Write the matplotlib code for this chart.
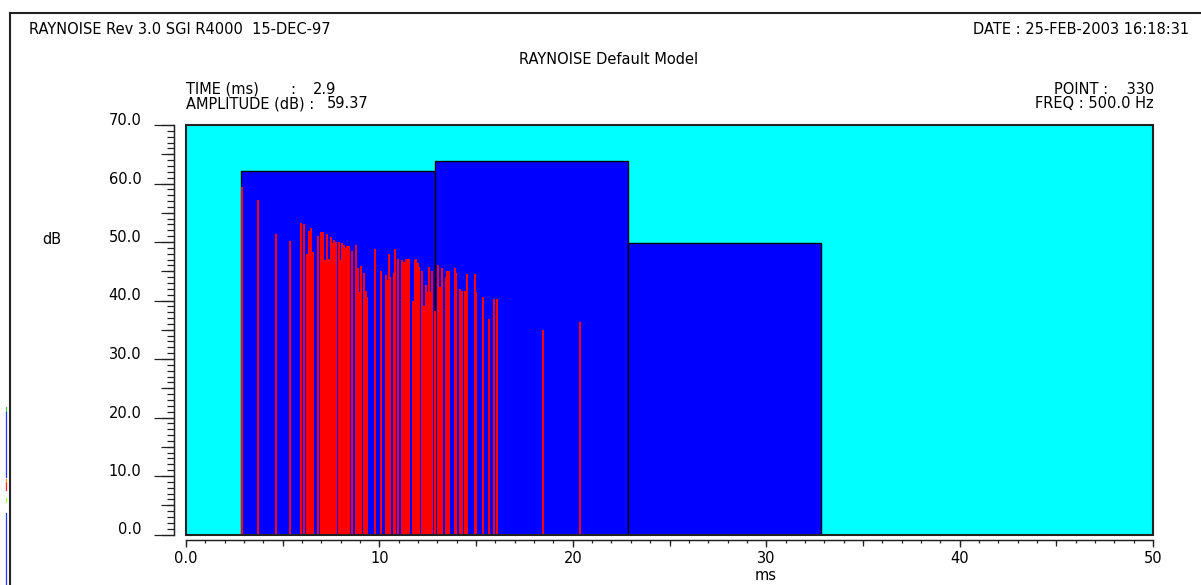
import matplotlib
matplotlib.use('Agg')
import matplotlib.pyplot as plt
from matplotlib.patches import Rectangle
from matplotlib.lines import Line2D
from matplotlib.ticker import MultipleLocator

plt.rcParams['font.family'] = ['DejaVu Sans']

# ---------------- data ----------------
band_start = [2.85, 12.85, 22.85]
band_width = [10.0, 10.0, 10.0]
band_level = [62.2, 63.9, 49.9]

echo_time = [2.9, 3.72, 4.65, 5.38, 5.95, 6.12, 6.26, 6.36, 6.46, 6.57,
             6.81, 6.96, 7.08, 7.19, 7.29, 7.39, 7.48, 7.55, 7.65, 7.76,
             7.90, 7.95, 8.07, 8.15, 8.24, 8.34, 8.44, 8.57, 8.79, 8.88,
             9.00, 9.05, 9.20, 9.29, 9.36, 9.76, 10.07, 10.33, 10.39, 10.48,
             10.55, 10.75, 10.79, 10.95, 11.17, 11.26, 11.36, 11.44, 11.53, 11.74,
             11.84, 11.89, 11.98, 12.05, 12.20, 12.29, 12.39, 12.48, 12.55, 12.63,
             12.72, 12.87, 13.03, 13.13, 13.25, 13.43, 13.51, 13.60, 13.89, 13.96,
             14.15, 14.29, 14.44, 14.54, 14.94, 15.01, 15.34, 15.67, 15.91, 16.07,
             18.44, 20.37]
echo_level = [59.37, 57.2, 51.4, 50.1, 53.2, 53.0, 47.9, 51.9, 52.4, 48.3,
              51.1, 51.7, 51.7, 46.9, 51.4, 47.1, 50.9, 49.8, 50.3, 50.0,
              50.0, 46.9, 49.8, 49.5, 49.0, 49.3, 49.3, 48.4, 49.5, 45.6,
              41.4, 45.9, 44.7, 41.6, 40.6, 48.8, 45.0, 44.3, 43.5, 47.9,
              44.0, 44.7, 48.8, 47.1, 46.9, 46.5, 47.1, 47.1, 47.1, 40.0,
              46.9, 47.1, 46.4, 45.8, 45.0, 39.0, 42.6, 41.4, 45.8, 41.4,
              45.0, 38.2, 46.1, 42.3, 45.6, 44.0, 45.0, 45.0, 45.6, 44.7,
              42.0, 41.7, 41.7, 44.5, 44.5, 41.4, 40.6, 36.8, 40.2, 40.2,
              35.0, 36.4]

x_ticks = [0, 10, 20, 30, 40, 50]
x_ticklabels = ['0.0', '10', '20', '30', '40', '50']
y_ticks = [0, 10, 20, 30, 40, 50, 60, 70]
y_ticklabels = ['0.0', '10.0', '20.0', '30.0', '40.0', '50.0', '60.0', '70.0']

# ---------------- figure ----------------
W, H = 1201, 585
fig = plt.figure(figsize=(W / 100, H / 100), dpi=100)
fig.patch.set_facecolor('white')


def fx(px):
    return px / W


def fy(py):
    return 1 - py / H


FS = 10.5
INK = '#222222'
L, R, T, B = 186, 1153, 125, 534.5
pos = [L / W, 1 - B / H, (R - L) / W, (B - T) / H]

# medium ticks (every 5 units) on an underlying axes
ax2 = fig.add_axes(pos)
ax2.set_xlim(0, 50)
ax2.set_ylim(0, 70)
ax2.patch.set_visible(False)
for s in ['top', 'right']:
    ax2.spines[s].set_visible(False)
ax2.spines['left'].set_position(('outward', 8.3))
ax2.spines['bottom'].set_position(('outward', 3.6))
for s in ['left', 'bottom']:
    ax2.spines[s].set_color(INK)
ax2.xaxis.set_major_locator(MultipleLocator(5))
ax2.yaxis.set_major_locator(MultipleLocator(5))
ax2.tick_params(axis='y', which='major', direction='out', length=9.4, width=0.9,
                color=INK, labelleft=False)
ax2.tick_params(axis='x', which='major', direction='out', length=4.6, width=0.9,
                color=INK, labelbottom=False)

ax = fig.add_axes(pos)
ax.set_xlim(0, 50)
ax.set_ylim(0, 70)
ax.set_facecolor('#00FFFF')
ax.bar(band_start, band_level, width=band_width, align='edge',
       color='#0000FF', edgecolor='black', linewidth=1.0, zorder=2)
ax.vlines(echo_time, 0, echo_level, colors='#FF0000', linewidth=1.3,
          antialiased=False, zorder=3)

for s in ['top', 'right']:
    ax.spines[s].set_visible(False)
ax.spines['left'].set_position(('outward', 8.3))
ax.spines['bottom'].set_position(('outward', 3.6))
for s in ['left', 'bottom']:
    ax.spines[s].set_color(INK)
    ax.spines[s].set_linewidth(1.0)
ax.add_patch(Rectangle((0, 0), 1, 1, transform=ax.transAxes, fill=False,
                       edgecolor=INK, linewidth=1.5, clip_on=False, zorder=6))

ax.set_xticks(x_ticks)
ax.set_xticklabels(x_ticklabels, fontsize=FS)
ax.set_yticks(y_ticks)
ax.set_yticklabels(y_ticklabels, fontsize=FS)
plt.setp(ax.get_yticklabels(), va='baseline')
ax.xaxis.set_minor_locator(MultipleLocator(1))
ax.yaxis.set_minor_locator(MultipleLocator(1))
ax.tick_params(axis='y', which='major', direction='out', length=14.4, width=0.9,
               color=INK, pad=9.4)
ax.tick_params(axis='y', which='minor', direction='out', length=5.0, width=0.9, color=INK)
ax.tick_params(axis='x', which='major', direction='out', length=5.0, width=0.9,
               color=INK, pad=3.6)
ax.tick_params(axis='x', which='minor', direction='out', length=2.4, width=0.9, color=INK)

# ---------------- texts ----------------
fig.text(fx(29), fy(30), 'RAYNOISE Rev 3.0 SGI R4000  15-DEC-97', fontsize=FS,
         ha='left', va='center')
fig.text(fx(1189), fy(30), 'DATE : 25-FEB-2003 16:18:31', fontsize=FS,
         ha='right', va='center')
fig.text(fx(609), fy(60), 'RAYNOISE Default Model', fontsize=FS, ha='center', va='center')
fig.text(fx(186), fy(89), 'TIME (ms)', fontsize=FS, ha='left', va='center')
fig.text(fx(293), fy(89), ':', fontsize=FS, ha='center', va='center')
fig.text(fx(313), fy(89), '2.9', fontsize=FS, ha='left', va='center')
fig.text(fx(186), fy(104), 'AMPLITUDE (dB) :', fontsize=FS, ha='left', va='center')
fig.text(fx(327), fy(104), '59.37', fontsize=FS, ha='left', va='center')
fig.text(fx(1154), fy(89), 'POINT :    330', fontsize=FS, ha='right', va='center')
fig.text(fx(1154), fy(104), 'FREQ : 500.0 Hz', fontsize=FS, ha='right', va='center')
fig.text(fx(52), fy(240), 'dB', fontsize=FS, ha='center', va='center')
fig.text(fx(766), fy(576), 'ms', fontsize=FS, ha='center', va='center')

# ---------------- outer frame & edge residue ----------------
fig.add_artist(Line2D([fx(10), fx(1201)], [fy(13), fy(13)], color=INK, lw=1.5))
fig.add_artist(Line2D([fx(10), fx(10)], [fy(13), fy(585)], color=INK, lw=1.5))
for (y0, y1, c) in [(407, 412, '#33cc33'), (412, 477, '#2233ff'), (479, 483, '#ff8800'),
                    (483, 490, '#ff2222'), (498, 502, '#99ff33'), (513, 585, '#2233ff')]:
    fig.add_artist(Line2D([fx(5.5), fx(5.5)], [fy(y0), fy(y1)], color=c, lw=0.9))

fig.savefig('out.png', dpi=100, facecolor='white')
